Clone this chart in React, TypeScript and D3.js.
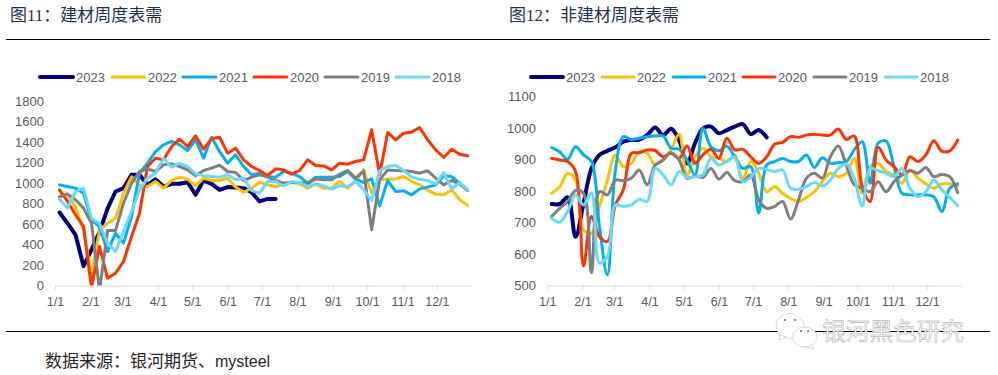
import React from "react";
import * as d3 from "d3";

const years = ["2023", "2022", "2021", "2020", "2019", "2018"];
const monthLabels = ["1/1", "2/1", "3/1", "4/1", "5/1", "6/1", "7/1", "8/1", "9/1", "10/1", "11/1", "12/1"];
const monthDays = [0, 31, 59, 90, 120, 151, 181, 212, 243, 273, 304, 334];
const colors = ["#000080", "#FFC000", "#00B0F0", "#FF3300", "#7F7F7F", "#66D9FF"];
const widths = [4, 3, 3, 3, 3, 3];
const leftTicks = [0, 200, 400, 600, 800, 1000, 1200, 1400, 1600, 1800];
const rightTicks = [500, 600, 700, 800, 900, 1000, 1100];

const b2023 = [712, 608, 494, 190, 350, 520, 750, 917, 950, 1080, 1080, 980, 1037, 966, 992, 992, 1008, 885, 1024, 992, 933, 960, 956, 950, 910, 820, 845, 845];
const b2022 = [870, 885, 770, 540, 90, 540, 608, 655, 900, 1060, 980, 965, 1015, 950, 1025, 1056, 1037, 972, 1047, 1024, 1024, 1047, 960, 910, 950, 1008, 982, 965, 982, 1005, 992, 950, 988, 950, 950, 1015, 950, 1015, 1128, 900, 1037, 1037, 1040, 1063, 1015, 982, 927, 891, 885, 933, 836, 780];
const b2021 = [982, 966, 950, 900, 640, 575, 330, 510, 413, 673, 1096, 1193, 1307, 1372, 1405, 1372, 1317, 1421, 1242, 1447, 1307, 1193, 1275, 1161, 1080, 1096, 1063, 1057, 1112, 1096, 1063, 998, 1057, 1057, 1057, 1063, 1112, 1037, 1005, 1040, 777, 1024, 917, 924, 885, 943, 960, 982, 1070, 1063, 998, 933];
const b2020 = [933, 820, 690, 575, -20, 380, 72, 120, 234, 478, 705, 1161, 1242, 1226, 1356, 1428, 1356, 1460, 1330, 1431, 1447, 1291, 1340, 1226, 1161, 1122, 1073, 1138, 1128, 1086, 1122, 1226, 1171, 1167, 1128, 1193, 1184, 1210, 1226, 1519, 1080, 1493, 1421, 1486, 1496, 1541, 1421, 1324, 1249, 1330, 1281, 1265];
const b2019 = [862, 894, 836, 755, 608, -50, 537, 537, 803, 998, 1112, 1138, 1112, 1177, 1187, 1161, 1128, 1070, 1122, 1145, 1174, 1112, 1102, 1024, 1057, 1080, 1057, 1024, 998, 1008, 1005, 992, 1040, 1031, 1031, 1086, 1122, 1047, 1119, 543, 1031, 1128, 1122, 1119, 1112, 1096, 1119, 1047, 982, 1024, 992, 927];
const b2018 = [842, 755, 917, 950, 657, 602, 413, 332, 527, 722, 933, 1047, 1096, 1242, 1154, 1193, 1161, 1089, 1070, 1063, 1057, 1080, 1031, 1047, 927, 900, 1015, 1015, 972, 1015, 1005, 966, 992, 972, 940, 972, 966, 1015, 933, 829, 1122, 1161, 1174, 1122, 1057, 1037, 1024, 992, 1102, 940, 1005, 933];

const n2023 = [759, 759, 780, 655, 761, 872, 915, 928, 939, 957, 962, 964, 978, 1002, 978, 998, 962, 888, 952, 999, 1005, 984, 994, 1005, 1013, 981, 994, 971];
const n2022 = [793, 814, 856, 835, 677, 666, 751, 835, 915, 878, 888, 925, 920, 883, 899, 931, 981, 851, 909, 936, 909, 904, 894, 915, 841, 894, 857, 798, 814, 793, 777, 767, 780, 798, 830, 857, 846, 857, 904, 793, 878, 888, 862, 851, 825, 867, 841, 823, 809, 823, 823, 816];
const n2021 = [938, 925, 901, 941, 915, 894, 687, 534, 867, 973, 964, 968, 973, 975, 975, 936, 933, 899, 851, 999, 941, 928, 943, 909, 872, 878, 730, 883, 894, 904, 894, 894, 915, 875, 906, 888, 891, 894, 931, 957, 825, 952, 959, 878, 793, 788, 788, 788, 782, 735, 809, 823];
const n2020 = [904, 899, 894, 862, 562, 719, 655, 640, 756, 804, 920, 922, 931, 929, 909, 920, 904, 943, 888, 915, 933, 904, 968, 931, 933, 909, 888, 909, 949, 955, 973, 971, 978, 981, 978, 978, 997, 964, 975, 814, 767, 939, 899, 878, 851, 909, 894, 915, 960, 927, 928, 962];
const n2019 = [719, 745, 767, 802, 793, 541, 798, 788, 835, 833, 841, 867, 820, 883, 899, 922, 899, 841, 848, 844, 872, 838, 859, 833, 830, 851, 772, 745, 751, 767, 711, 772, 841, 857, 841, 909, 943, 883, 820, 809, 798, 830, 798, 830, 851, 865, 857, 875, 846, 853, 846, 795];
const n2018 = [714, 701, 735, 788, 756, 795, 571, 592, 756, 751, 756, 774, 767, 872, 851, 820, 862, 844, 846, 851, 904, 883, 894, 909, 830, 844, 872, 869, 862, 867, 809, 806, 814, 827, 816, 835, 872, 886, 841, 753, 872, 865, 857, 846, 872, 809, 782, 798, 835, 804, 780, 754];

const leftSeries = [b2023, b2022, b2021, b2020, b2019, b2018];
const rightSeries = [n2023, n2022, n2021, n2020, n2019, n2018];
const font = "'Liberation Sans', Arial, sans-serif";
const cjkSerif = "'Liberation Serif', 'Noto Sans CJK SC', serif";
const cjkSans = "'Noto Sans CJK SC', sans-serif";

type PanelProps = {
  id: string;
  series: number[][];
  ticks: number[];
  domain: [number, number];
  x0: number;
  x1: number;
  yBottom: number;
  yTop: number;
  labelRight: number;
  curve: d3.CurveFactory;
  legendX: number[];
  legendW: number;
};

function Panel(p: PanelProps) {
  const x = d3.scaleLinear().domain([0, 364]).range([p.x0, p.x1]);
  const y = d3.scaleLinear().domain(p.domain).range([p.yBottom, p.yTop]);
  const line = d3
    .line<number>()
    .x((_, i) => x(3.5 + i * 7))
    .y((d) => y(d))
    .curve(p.curve);
  return (
    <g>
      <clipPath id={p.id}>
        <rect x={p.x0} y={p.yTop - 6} width={p.x1 - p.x0 + 4} height={p.yBottom - p.yTop + 6} />
      </clipPath>
      <line x1={p.x0} x2={p.x1} y1={p.yBottom + 0.5} y2={p.yBottom + 0.5} stroke="#D9D9D9" strokeWidth={1} />
      {monthDays.map((d, i) => (
        <g key={d}>
          <line x1={x(d)} x2={x(d)} y1={p.yBottom} y2={p.yBottom + 4} stroke="#D9D9D9" strokeWidth={1} />
          <text x={x(d)} y={p.yBottom + 20} textAnchor="middle" fontSize={12.5} fontFamily={font} fill="#595959">
            {monthLabels[i]}
          </text>
        </g>
      ))}
      {p.ticks.map((t) => (
        <text key={t} x={p.labelRight} y={y(t) + 4.5} textAnchor="end" fontSize={13} fontFamily={font} fill="#595959">
          {t}
        </text>
      ))}
      <g clipPath={`url(#${p.id})`}>
        {p.series.map((s, i) => (
          <path
            key={years[i]}
            d={line(s) || ""}
            fill="none"
            stroke={colors[i]}
            strokeWidth={widths[i]}
            strokeLinecap="round"
            strokeLinejoin="round"
          />
        ))}
      </g>
      {years.map((yr, i) => (
        <g key={yr}>
          <line
            x1={p.legendX[i]}
            x2={p.legendX[i] + p.legendW}
            y1={77}
            y2={77}
            stroke={colors[i]}
            strokeWidth={widths[i]}
            strokeLinecap="round"
          />
          <text x={p.legendX[i] + p.legendW + 3} y={81.5} fontSize={13} fontFamily={font} fill="#595959">
            {yr}
          </text>
        </g>
      ))}
    </g>
  );
}

export default function App() {
  return (
    <svg
      width={998}
      height={375}
      viewBox="0 0 998 375"
      style={{ position: "absolute", left: 0, top: 0, background: "#fff" }}
    >
      <text x={10} y={21} fontSize={17} fontFamily={cjkSerif} fill="#1F3050">
        图11：建材周度表需
      </text>
      <text x={509} y={21} fontSize={17} fontFamily={cjkSerif} fill="#1F3050">
        图12：非建材周度表需
      </text>
      <line x1={6} x2={990} y1={39.5} y2={39.5} stroke="#000" strokeWidth={1} />
      <Panel
        id="clipL"
        series={leftSeries}
        ticks={leftTicks}
        domain={[0, 1800]}
        x0={55.5}
        x1={471.7}
        yBottom={285.5}
        yTop={101}
        labelRight={44}
        curve={d3.curveLinear}
        legendX={[40, 112, 183, 254, 325, 396]}
        legendW={33}
      />
      <Panel
        id="clipR"
        series={rightSeries}
        ticks={rightTicks}
        domain={[500, 1100]}
        x0={547.7}
        x1={961.7}
        yBottom={285.5}
        yTop={96.7}
        labelRight={536}
        curve={d3.curveCatmullRom.alpha(0.5)}
        legendX={[531, 602, 673, 743, 814, 885]}
        legendW={32}
      />
      <line x1={6} x2={990} y1={331.5} y2={331.5} stroke="#000" strokeWidth={1} />
      <text x={45} y={367} fontSize={17} fontFamily={cjkSans} fill="#262626">
        数据来源：银河期货、<tspan fontFamily={font} fontSize={16}>mysteel</tspan>
      </text>
      <g fill="#fff" stroke="#C8C8C8" strokeWidth={0.7}>
        <ellipse cx={790} cy={326} rx={14} ry={12.5} />
        <path d="M780 335 L779 340 L786 337 Z" />
        <ellipse cx={805} cy={337} rx={12} ry={10} />
        <path d="M811 345 L814 349 L807 347 Z" />
        <g fill="#666" stroke="none">
          <circle cx={785} cy={320} r={1} />
          <circle cx={795} cy={320} r={1} />
          <circle cx={801} cy={331} r={1} />
          <circle cx={808} cy={331} r={1} />
        </g>
      </g>
      <text x={822} y={340} fontSize={23.7} fontFamily={cjkSans} fill="#fff" stroke="#999" strokeWidth={0.45}>
        银河黑色研究
      </text>
    </svg>
  );
}
